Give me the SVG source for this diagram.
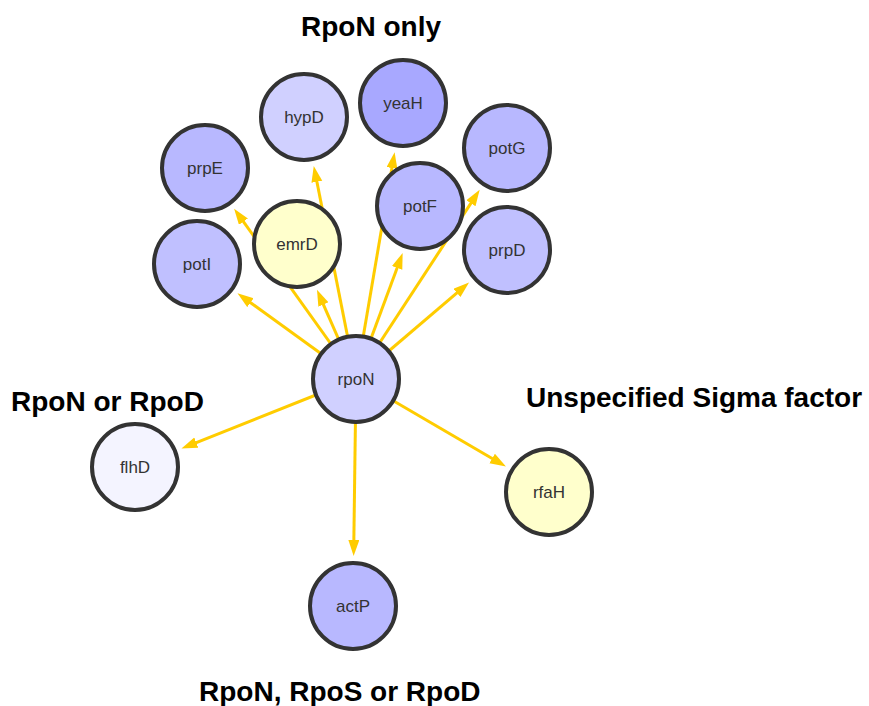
<svg xmlns="http://www.w3.org/2000/svg" width="869" height="706" viewBox="0 0 869 706">
  <style>
    .edge { stroke: #ffcc00; stroke-width: 3; fill: none; marker-end: url(#arrow); }
    .node circle { stroke: #333333; stroke-width: 4; }
    .node text { font-family: "Liberation Sans", Arial, sans-serif; font-size: 17px; fill: #333333; text-anchor: middle; }
    .group-label { font-family: "Liberation Sans", Arial, sans-serif; font-size: 28px; font-weight: bold; fill: #000000; }
  </style>
  <defs>
    <marker id="arrow" markerUnits="userSpaceOnUse" markerWidth="17" markerHeight="12" refX="4" refY="5.5" orient="auto">
      <path d="M0,0 L16,5.5 L0,11 z" fill="#ffcc00"/>
    </marker>
  </defs>
  <rect width="869" height="706" fill="#ffffff"/>

  <!-- group labels -->
  <text class="group-label" x="301" y="36">RpoN only</text>
  <text class="group-label" x="11" y="411">RpoN or RpoD</text>
  <text class="group-label" x="526" y="407">Unspecified Sigma factor</text>
  <text class="group-label" x="199" y="701">RpoN, RpoS or RpoD</text>

  <!-- connectors from rpoN -->
  <g id="edges">
    <line class="edge" x1="356" y1="379" x2="247.2" y2="300.3"/>
    <line class="edge" x1="356" y1="379" x2="241.1" y2="218.4"/>
    <line class="edge" x1="356" y1="379" x2="321.8" y2="300.8"/>
    <line class="edge" x1="356" y1="379" x2="316.1" y2="177.8"/>
    <line class="edge" x1="356" y1="379" x2="392.6" y2="164.1"/>
    <line class="edge" x1="356" y1="379" x2="398.5" y2="264.2"/>
    <line class="edge" x1="356" y1="379" x2="473.1" y2="199.9"/>
    <line class="edge" x1="356" y1="379" x2="459.9" y2="290.3"/>
    <line class="edge" x1="356" y1="379" x2="192.6" y2="444.1"/>
    <line class="edge" x1="356" y1="379" x2="353.8" y2="544"/>
    <line class="edge" x1="356" y1="379" x2="495.6" y2="460.5"/>
  </g>

  <!-- nodes -->
  <g id="rpoN" class="node"><circle cx="356" cy="379" r="43" fill="#d0d0ff"/><text x="356" y="385">rpoN</text></g>
  <g id="potI" class="node"><circle cx="197" cy="264" r="43" fill="#c0c0ff"/><text x="197" y="270">potI</text></g>
  <g id="prpE" class="node"><circle cx="205" cy="168" r="43" fill="#b8b8ff"/><text x="205" y="174">prpE</text></g>
  <g id="emrD" class="node"><circle cx="297" cy="244" r="43" fill="#ffffcc"/><text x="297" y="250">emrD</text></g>
  <g id="hypD" class="node"><circle cx="304" cy="117" r="43" fill="#d0d0ff"/><text x="304" y="123">hypD</text></g>
  <g id="yeaH" class="node"><circle cx="403" cy="103" r="43" fill="#a8a8ff"/><text x="403" y="109">yeaH</text></g>
  <g id="potF" class="node"><circle cx="420" cy="206" r="43" fill="#b8b8ff"/><text x="420" y="212">potF</text></g>
  <g id="potG" class="node"><circle cx="507" cy="148" r="43" fill="#b8b8ff"/><text x="507" y="154">potG</text></g>
  <g id="prpD" class="node"><circle cx="507" cy="250" r="43" fill="#c0c0ff"/><text x="507" y="256">prpD</text></g>
  <g id="flhD" class="node"><circle cx="135" cy="467" r="43" fill="#f4f4ff"/><text x="135" y="473">flhD</text></g>
  <g id="actP" class="node"><circle cx="353" cy="606" r="43" fill="#b8b8ff"/><text x="353" y="612">actP</text></g>
  <g id="rfaH" class="node"><circle cx="549" cy="492" r="43" fill="#ffffcc"/><text x="549" y="498">rfaH</text></g>
</svg>
